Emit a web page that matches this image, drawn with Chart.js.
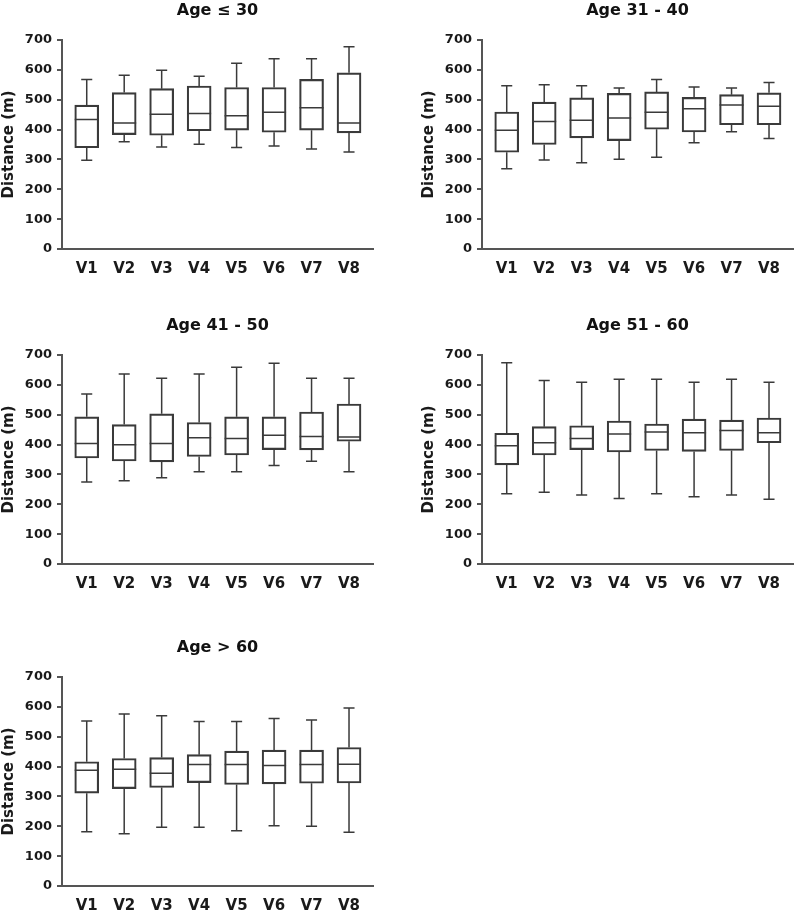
<!DOCTYPE html>
<html>
<head>
<meta charset="utf-8">
<script src="https://cdn.jsdelivr.net/npm/chart.js@4.4.1/dist/chart.umd.min.js"></script>
<style>
  body { margin: 0; background: #fff; width: 797px; height: 913px; overflow: hidden; position: relative; }
  canvas { position: absolute; }
</style>
</head>
<body>
<canvas id="c0" width="377" height="290" style="left:0px;top:0px"></canvas>
<canvas id="c1" width="377" height="290" style="left:420px;top:0px"></canvas>
<canvas id="c2" width="377" height="290" style="left:0px;top:315px"></canvas>
<canvas id="c3" width="377" height="290" style="left:420px;top:315px"></canvas>
<canvas id="c4" width="377" height="290" style="left:0px;top:637px"></canvas>
<script>
const visits = ['V1', 'V2', 'V3', 'V4', 'V5', 'V6', 'V7', 'V8'];
const ageGroups = ['Age \u2264 30', 'Age 31 - 40', 'Age 41 - 50', 'Age 51 - 60', 'Age > 60'];
const yTicks = [0, 100, 200, 300, 400, 500, 600, 700];

// one row per age group, one value per visit
const minValues = [
    [297, 359, 342, 351, 340, 345, 335, 325],
    [269, 298, 289, 301, 307, 356, 393, 370],
    [275, 279, 289, 309, 309, 330, 344, 309],
    [235, 240, 231, 219, 235, 225, 231, 217],
    [182, 175, 197, 197, 185, 202, 200, 180]
];
const q1Values = [
    [339, 383, 381, 396, 398, 391, 398, 389],
    [324, 350, 372, 363, 401, 392, 416, 416],
    [355, 345, 342, 360, 365, 383, 382, 411],
    [332, 365, 383, 375, 380, 377, 380, 406],
    [311, 326, 330, 346, 340, 342, 344, 345]
];
const medianValues = [
    [434, 422, 451, 454, 446, 458, 473, 422],
    [398, 427, 431, 439, 458, 470, 482, 478],
    [404, 399, 404, 423, 420, 431, 427, 425],
    [396, 406, 420, 435, 442, 440, 447, 440],
    [388, 391, 378, 407, 407, 404, 407, 408]
];
const q3Values = [
    [482, 524, 537, 546, 541, 541, 568, 590],
    [459, 492, 506, 521, 526, 508, 517, 523],
    [493, 467, 503, 474, 493, 493, 509, 536],
    [438, 460, 463, 479, 469, 485, 482, 489],
    [416, 427, 430, 440, 452, 455, 455, 464]
];
const maxValues = [
    [568, 582, 599, 579, 622, 637, 637, 677],
    [547, 550, 547, 539, 568, 543, 539, 558],
    [569, 636, 622, 636, 659, 672, 622, 622],
    [674, 615, 609, 619, 619, 609, 619, 609],
    [553, 576, 570, 551, 551, 561, 556, 596]
];

const lineColor = '#3a3a3a';
const axisColor = '#555';
const fontFamily = '"DejaVu Sans", sans-serif';

// whiskers, caps and median lines, placed from the bar elements and the y scale
const boxWhiskers = {
    id: 'boxWhiskers',
    afterDatasetsDraw(chart, args, opts) {
        const g = opts.group;
        const y = chart.scales.y;
        const ctx = chart.ctx;
        ctx.save();
        ctx.strokeStyle = lineColor;
        ctx.lineWidth = 1.5;
        chart.getDatasetMeta(0).data.forEach((bar, i) => {
            const half = bar.width / 2;
            const cap = bar.width * 0.23;
            const yMin = y.getPixelForValue(minValues[g][i]);
            const yQ1 = y.getPixelForValue(q1Values[g][i]);
            const yMed = y.getPixelForValue(medianValues[g][i]);
            const yQ3 = y.getPixelForValue(q3Values[g][i]);
            const yMax = y.getPixelForValue(maxValues[g][i]);
            ctx.beginPath();
            ctx.moveTo(bar.x, yQ3); ctx.lineTo(bar.x, yMax);
            ctx.moveTo(bar.x - cap, yMax); ctx.lineTo(bar.x + cap, yMax);
            ctx.moveTo(bar.x, yQ1); ctx.lineTo(bar.x, yMin);
            ctx.moveTo(bar.x - cap, yMin); ctx.lineTo(bar.x + cap, yMin);
            ctx.moveTo(bar.x - half, yMed); ctx.lineTo(bar.x + half, yMed);
            ctx.stroke();
        });
        ctx.restore();
    }
};

ageGroups.forEach((title, g) => {
    const boxes = visits.map((v, i) => ({ x: i + 1, y: [q1Values[g][i], q3Values[g][i]] }));
    new Chart(document.getElementById('c' + g), {
        type: 'bar',
        data: {
            datasets: [{
                data: boxes,
                backgroundColor: 'rgba(255,255,255,0)',
                borderColor: lineColor,
                borderWidth: 1.5,
                borderSkipped: false,
                barThickness: 24
            }]
        },
        options: {
            responsive: false,
            animation: false,
            layout: { padding: { left: 0, right: 4, top: 0, bottom: 0 } },
            plugins: {
                legend: { display: false },
                tooltip: { enabled: false },
                title: {
                    display: true,
                    text: title,
                    fullSize: false,
                    color: '#111',
                    font: { family: fontFamily, size: 16, weight: 'bold' },
                    padding: { top: 1, bottom: 19.8 }
                },
                boxWhiskers: { group: g }
            },
            scales: {
                x: {
                    type: 'linear',
                    offset: false,
                    min: 0.34,
                    max: 8.64,
                    afterBuildTicks: s => { s.ticks = visits.map((v, i) => ({ value: i + 1 })); },
                    afterFit: s => { s.height = 41; },
                    grid: { display: false, drawTicks: false, offset: false },
                    border: { display: true, color: axisColor, width: 2 },
                    ticks: {
                        padding: 11,
                        color: '#1a1a1a',
                        font: { family: fontFamily, size: 15, weight: 'bold' },
                        callback: v => visits[v - 1]
                    }
                },
                y: {
                    min: 0,
                    max: 700,
                    afterBuildTicks: s => { s.ticks = yTicks.map(v => ({ value: v })); },
                    afterFit: s => { s.width = 62; },
                    grid: { display: true, drawOnChartArea: false, drawTicks: true, tickLength: 5, color: axisColor, lineWidth: 2 },
                    border: { display: true, color: axisColor, width: 2 },
                    ticks: {
                        padding: 5,
                        color: '#1a1a1a',
                        font: { family: fontFamily, size: 13, weight: 'bold' }
                    },
                    title: {
                        display: true,
                        text: 'Distance (m)',
                        color: '#1a1a1a',
                        padding: 0,
                        font: { family: fontFamily, size: 15, weight: 'bold' }
                    }
                }
            }
        },
        plugins: [boxWhiskers]
    });
});
</script>
</body>
</html>
